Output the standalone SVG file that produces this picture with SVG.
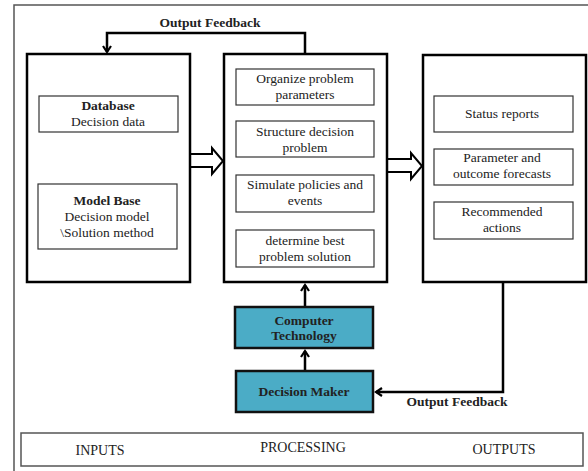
<svg xmlns="http://www.w3.org/2000/svg" width="588" height="471" viewBox="0 0 588 471">
<defs>
<style>
text{font-family:"Liberation Serif","Times New Roman",serif;font-size:13.5px;fill:#222;text-anchor:middle}
.b{font-weight:bold}
.big{fill:none;stroke:#000;stroke-width:2.5}
.sm{fill:#fff;stroke:#333;stroke-width:1.2}
.teal{fill:#4BACC6;stroke:#111;stroke-width:2.5}
.con{fill:none;stroke:#000;stroke-width:2.5}
.blk{fill:#fff;stroke:#000;stroke-width:2;stroke-linejoin:miter}
.cap{font-size:14px}
</style>
<marker id="ah" markerWidth="10" markerHeight="10" refX="8" refY="5" orient="auto" markerUnits="userSpaceOnUse">
<path d="M2,1 L8,5 L2,9" fill="none" stroke="#000" stroke-width="2.2"/>
</marker>
</defs>
<rect x="14" y="5" width="590" height="480" fill="#fff" stroke="#555" stroke-width="1.5"/>

<g id="connectors">
<path class="con" d="M305,54 V33 H107 V52" marker-end="url(#ah)"/>
<path class="con" d="M503,282 V392 H376" marker-end="url(#ah)"/>
<path class="con" d="M305,307 V285" marker-end="url(#ah)"/>
<path class="con" d="M305,371 V351" marker-end="url(#ah)"/>
<path class="blk" d="M190,154 H212 V148 L223,161 L212,174 V167 H190 Z"/>
<path class="blk" d="M387,159 H411 V153 L422,166 L411,179 V172 H387 Z"/>
<text class="b" x="210" y="27">Output Feedback</text>
<text class="b" x="457" y="406">Output Feedback</text>
</g>

<g id="inputs">
<rect class="big" x="27" y="54" width="163" height="228"/>
</g>
<g id="database">
<rect class="sm" x="39" y="96" width="139" height="36"/>
<text class="b" x="108" y="110">Database</text>
<text x="108" y="126">Decision data</text>
</g>
<g id="modelbase">
<rect class="sm" x="38" y="184" width="139" height="65"/>
<text class="b" x="107" y="205">Model Base</text>
<text x="107" y="221">Decision model</text>
<text x="107" y="237">\Solution method</text>
</g>

<g id="processing">
<rect class="big" x="224" y="54" width="163" height="228"/>
</g>
<g id="organize">
<rect class="sm" x="236" y="69" width="138" height="36"/>
<text x="305" y="83">Organize problem</text>
<text x="305" y="99">parameters</text>
</g>
<g id="structure">
<rect class="sm" x="236" y="121" width="138" height="36"/>
<text x="305" y="136">Structure decision</text>
<text x="305" y="152">problem</text>
</g>
<g id="simulate">
<rect class="sm" x="236" y="175" width="138" height="37"/>
<text x="305" y="189">Simulate policies and</text>
<text x="305" y="205">events</text>
</g>
<g id="determine">
<rect class="sm" x="236" y="230" width="138" height="37"/>
<text x="305" y="245">determine best</text>
<text x="305" y="261">problem solution</text>
</g>

<g id="outputs">
<rect class="big" x="423" y="55" width="163" height="227"/>
</g>
<g id="status">
<rect class="sm" x="434" y="96" width="139" height="36"/>
<text x="502" y="118">Status reports</text>
</g>
<g id="forecasts">
<rect class="sm" x="434" y="149" width="139" height="36"/>
<text x="502" y="162">Parameter and</text>
<text x="502" y="178">outcome forecasts</text>
</g>
<g id="actions">
<rect class="sm" x="434" y="202" width="139" height="37"/>
<text x="502" y="216">Recommended</text>
<text x="502" y="232">actions</text>
</g>

<g id="computer">
<rect class="teal" x="235" y="307" width="138" height="41"/>
<text class="b" x="304" y="325">Computer</text>
<text class="b" x="304" y="340">Technology</text>
</g>
<g id="decisionmaker">
<rect class="teal" x="236" y="371" width="137" height="41"/>
<text class="b" x="304" y="396">Decision Maker</text>
</g>

<g id="legend">
<rect x="21" y="433" width="562" height="33" fill="#fff" stroke="#555" stroke-width="1.5"/>
<text class="cap" x="100" y="455">INPUTS</text>
<text class="cap" x="303" y="452">PROCESSING</text>
<text class="cap" x="504" y="454">OUTPUTS</text>
</g>
</svg>
